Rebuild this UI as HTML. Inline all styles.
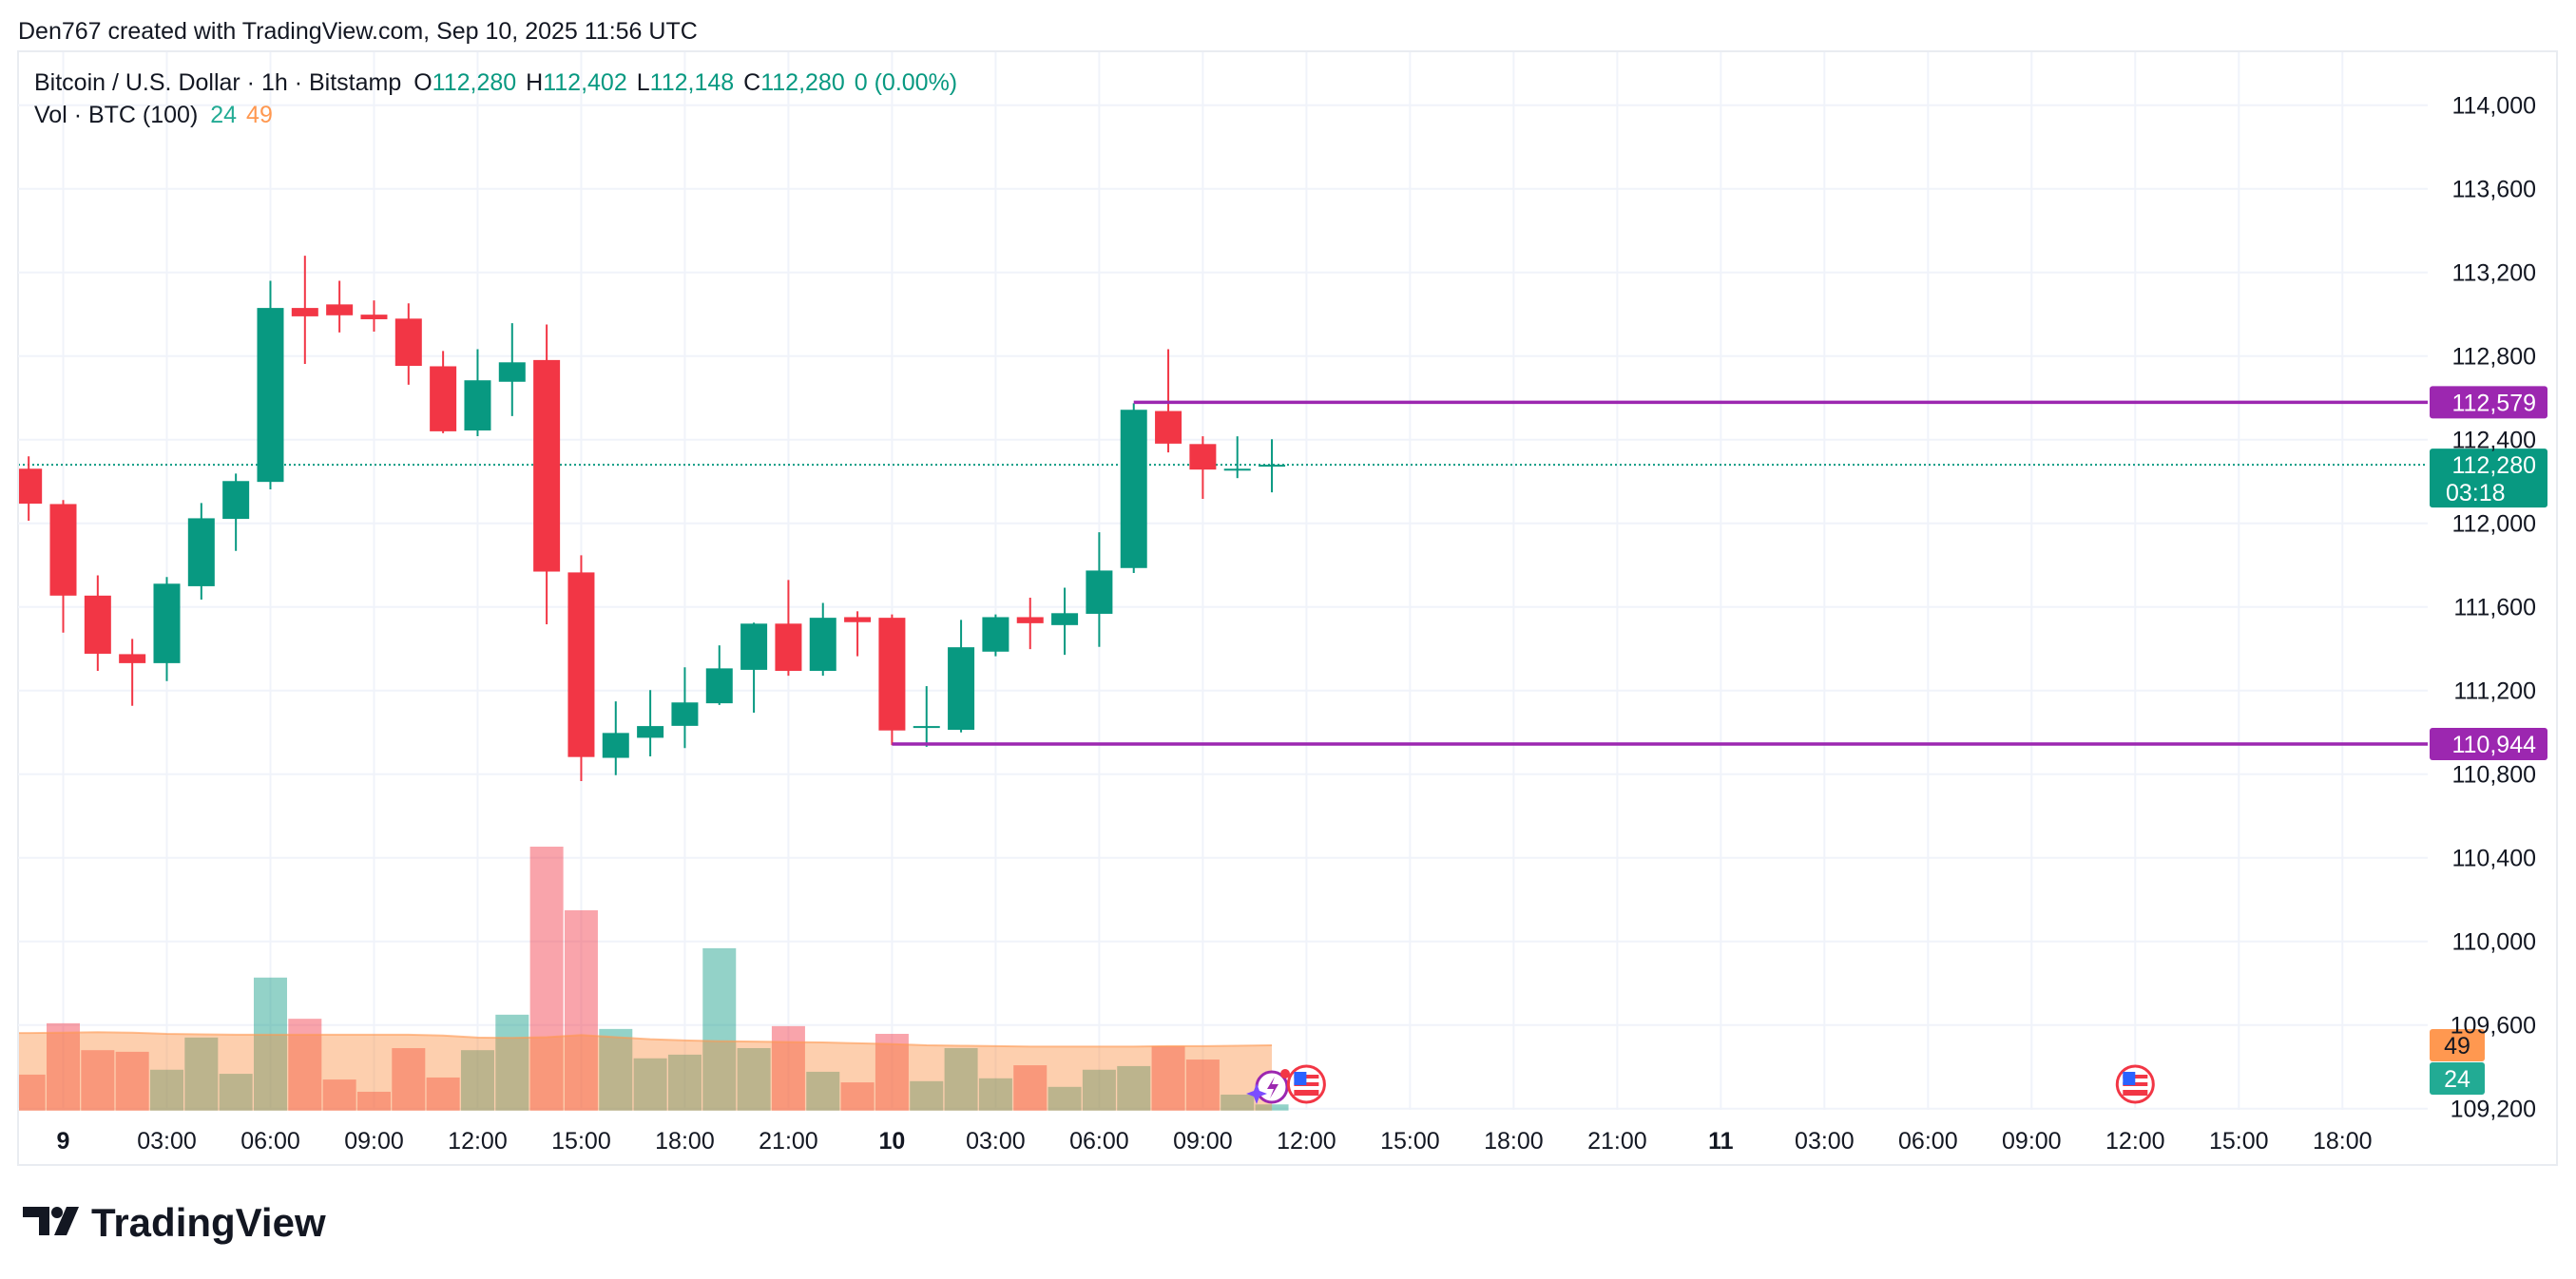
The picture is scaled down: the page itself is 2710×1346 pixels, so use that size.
<!DOCTYPE html>
<html><head><meta charset="utf-8"><style>
html,body{margin:0;padding:0;background:#fff;}
svg{display:block;font-family:"Liberation Sans",sans-serif;}
</style></head><body>
<svg id="chart" width="2710" height="1346" viewBox="0 0 2710 1346" xmlns="http://www.w3.org/2000/svg">
<defs><clipPath id="plotclip"><rect x="20" y="55" width="2534" height="1114"/></clipPath></defs>
<rect x="0" y="0" width="2710" height="1346" fill="#fff"/>
<text x="19" y="41" font-size="25" fill="#131722">Den767 created with TradingView.com, Sep 10, 2025 11:56 UTC</text>
<rect x="19" y="54" width="2671" height="1172" fill="none" stroke="#e9ecf1" stroke-width="2"/>
<g id="grid"></g>
<g id="vol" clip-path="url(#plotclip)"></g>
<g id="candles" clip-path="url(#plotclip)"></g>
<g id="overlay"></g>
<g id="axes"></g>
<text x="36" y="95" font-size="25" fill="#131722">Bitcoin / U.S. Dollar · 1h · Bitstamp <tspan dx="6">O</tspan><tspan fill="#089981">112,280</tspan><tspan dx="10">H</tspan><tspan fill="#089981">112,402</tspan><tspan dx="10">L</tspan><tspan fill="#089981">112,148</tspan><tspan dx="10">C</tspan><tspan fill="#089981">112,280</tspan><tspan dx="10" fill="#089981">0 (0.00%)</tspan></text>
<text x="36" y="129" font-size="25" fill="#131722">Vol · BTC (100) <tspan dx="6" fill="#22ab94">24</tspan><tspan dx="10" fill="#ff9850">49</tspan></text>
<g>
<path d="M24 1270 H52 V1300 H41 V1281 H24 Z" fill="#131722"/>
<circle cx="60" cy="1276" r="6" fill="#131722"/>
<path d="M70 1270 H83 L70 1300 H57 Z" fill="#131722"/>
<text x="96" y="1301" font-size="42" font-weight="bold" fill="#131722">TradingView</text>
</g>
</svg>
<script>
const categoriesHours=[-1,0,1,2,3,4,5,6,7,8,9,10,11,12,13,14,15,16,17,18,19,20,21,22,23,24,25,26,27,28,29,30,31,32,33,34,35];
const opens=[112261,112092,111654,111374,111331,111699,112021,112198,113030,113047,112998,112979,112751,112444,112677,112781,111765,110878,110974,111031,111139,111299,111520,111294,111551,111548,111026,111012,111386,111551,111513,111567,111786,112537,112379,112260,112280];
const highs=[112320,112111,111751,111447,111743,112097,112238,113160,113280,113160,113066,113052,112824,112833,112957,112951,111847,111148,111202,111311,111416,111525,111729,111619,111579,111564,111221,111538,111564,111644,111692,111957,112574,112833,112416,112416,112402];
const lows=[112012,111477,111294,111127,111245,111635,111868,112162,112762,112913,112917,112663,112431,112417,112513,111517,110767,110795,110885,110925,111131,111094,111271,111271,111364,110939,110931,111000,111364,111398,111371,111409,111762,112339,112117,112216,112148];
const closes=[112094,111654,111376,111331,111711,112024,112202,113030,112990,112995,112976,112753,112440,112684,112770,111769,110882,110997,111030,111143,111306,111520,111294,111548,111527,111009,111030,111407,111551,111522,111570,111774,112543,112381,112257,112261,112280];
const volumes=[88,214,148,144,100,179,90,326,225,76,46,153,81,148,235,647,491,200,128,137,398,153,207,95,69,188,72,153,79,111,58,100,109,158,125,39,15];
const volumeMA=[190,191,192,191,188,187,186,186,186,186,186,186,184,179,178,180,185,180,175,172,170,169,168,167,165,163,160,159,158,157,157,157,157,158,158,159,160];
const priceTicks=[114000,113600,113200,112800,112400,112000,111600,111200,110800,110400,110000,109600,109200];
const priceTickLabels=["114,000","113,600","113,200","112,800","112,400","112,000","111,600","111,200","110,800","110,400","110,000","109,600","109,200"];
const timeTickHours=[0,3,6,9,12,15,18,21,24,27,30,33,36,39,42,45,48,51,54,57,60,63,66];
const timeTickLabels=["9","03:00","06:00","09:00","12:00","15:00","18:00","21:00","10","03:00","06:00","09:00","12:00","15:00","18:00","21:00","11","03:00","06:00","09:00","12:00","15:00","18:00"];
const levelPrices=[112579,110944];
const levelLabels=["112,579","110,944"];
const levelStartHours=[31,24];
const lastPrice=112280;
const eventHours=[36,60];

const NS="http://www.w3.org/2000/svg";
const X0=66.5,PX_H=36.33,Y0=110.7,PX_P=0.22,VBASE=1168.7,VPX=0.4292;
const PLOT_L=19,PLOT_R=2554,PLOT_T=55,PLOT_B=1168;
function xAt(h){return X0+h*PX_H;}
function yAt(p){return Y0+(114000-p)*PX_P;}
function vH(v){return v*VPX;}
function mk(tag,attrs,parent){const e=document.createElementNS(NS,tag);for(const k in attrs)e.setAttribute(k,attrs[k]);parent.appendChild(e);return e;}
const grid=document.getElementById('grid'),vol=document.getElementById('vol'),cg=document.getElementById('candles'),ov=document.getElementById('overlay'),ax=document.getElementById('axes');

priceTicks.forEach((p,i)=>{
  const y=yAt(p);
  const l=mk('line',{x1:PLOT_L,x2:PLOT_R,y1:y,y2:y,stroke:'#f0f3fa','stroke-width':2},grid);
  
  
  const t=mk('text',{x:2668,y:y+9,'font-size':25,fill:'#131722','text-anchor':'end'},ax);
  t.textContent=priceTickLabels[i];
  
  
});
timeTickHours.forEach((h,i)=>{
  const x=xAt(h);
  const l=mk('line',{x1:x,x2:x,y1:PLOT_T,y2:PLOT_B,stroke:'#f0f3fa','stroke-width':2},grid);
  
  
  const bold=(timeTickLabels[i].indexOf(':')<0);
  const t=mk('text',{x:x,y:1209,'font-size':25,fill:'#131722','text-anchor':'middle','font-weight':bold?'bold':'normal'},ax);
  t.textContent=timeTickLabels[i];
  
  
});

categoriesHours.forEach((h,i)=>{
  const up=closes[i]>=opens[i];
  const hgt=vH(volumes[i]);
  const r=mk('rect',{x:xAt(h)-17.5,y:VBASE-hgt,width:35,height:hgt,fill:up?'rgba(8,153,129,0.44)':'rgba(242,54,69,0.45)'},vol);
  
  
});
let d='M'+PLOT_L+','+VBASE+' L'+PLOT_L+','+(VBASE-vH(volumeMA[0]));
categoriesHours.forEach((h,i)=>{d+=' L'+xAt(h)+','+(VBASE-vH(volumeMA[i]));});
d+=' L'+xAt(categoriesHours[categoriesHours.length-1])+','+VBASE+' Z';
const area=mk('path',{d:d,fill:'rgba(250,135,52,0.4)'},vol);


let dl='M'+PLOT_L+','+(VBASE-vH(volumeMA[0]));
categoriesHours.forEach((h,i)=>{dl+=' L'+xAt(h)+','+(VBASE-vH(volumeMA[i]));});
const mal=mk('path',{d:dl,fill:'none',stroke:'rgba(255,152,80,0.6)','stroke-width':2},vol);



const ly=yAt(lastPrice);
const dot=mk('line',{x1:PLOT_L,x2:PLOT_R,y1:ly,y2:ly,stroke:'#089981','stroke-width':2,'stroke-dasharray':'2 3'},cg);



categoriesHours.forEach((h,i)=>{
  const up=closes[i]>=opens[i];
  const col=up?'#089981':'#f23645';
  const x=xAt(h);
  const g=mk('g',{},cg);
  
  
  mk('line',{x1:x,x2:x,y1:yAt(highs[i]),y2:yAt(lows[i]),stroke:col,'stroke-width':2},g);
  const top=yAt(Math.max(opens[i],closes[i])),bot=yAt(Math.min(opens[i],closes[i]));
  mk('rect',{x:x-14,y:top,width:28,height:Math.max(2,bot-top),fill:col},g);
});

levelPrices.forEach((p,i)=>{
  const y=yAt(p);
  const l=mk('line',{x1:xAt(levelStartHours[i]),x2:PLOT_R,y1:y,y2:y,stroke:'#9c27b0','stroke-width':3.5},ov);
  
  
  const r=mk('rect',{x:2556,y:y-17,width:124,height:34,rx:3,fill:'#9c27b0'},ov);
  
  
  const t=mk('text',{x:2668,y:y+9,'font-size':25,fill:'#fff','text-anchor':'end'},ov);
  t.textContent=levelLabels[i];
  
  
});
const lb=mk('rect',{x:2556,y:ly-17,width:124,height:62,rx:3,fill:'#089981'},ov);


const lt=mk('text',{x:2668,y:ly+9,'font-size':25,fill:'#fff','text-anchor':'end'},ov);
lt.textContent='112,280';


const ct=mk('text',{x:2573,y:ly+38,'font-size':25,fill:'#fff'},ov);
ct.textContent='03:18';


const vb1=mk('rect',{x:2556,y:1083,width:58,height:34,rx:3,fill:'#ff9850'},ov);


const vt1=mk('text',{x:2585,y:1109,'font-size':25,fill:'#131722','text-anchor':'middle'},ov);
vt1.textContent='49';


const vb2=mk('rect',{x:2556,y:1118,width:58,height:34,rx:3,fill:'#22ab94'},ov);


const vt2=mk('text',{x:2585,y:1144,'font-size':25,fill:'#fff','text-anchor':'middle'},ov);
vt2.textContent='24';



const lg=mk('g',{},ov);


mk('circle',{cx:1338,cy:1144,r:16,fill:'#fff',stroke:'#9c27b0','stroke-width':3},lg);
mk('path',{d:'M1341 1133 L1333 1146 H1340 L1336 1156 L1345 1141 H1338 Z',fill:'#9c27b0'},lg);
mk('path',{d:'M1322 1140 L1325 1148 L1333 1151 L1325 1154 L1322 1162 L1319 1154 L1311 1151 L1319 1148 Z',fill:'#7b4dff'},lg);
mk('circle',{cx:1352,cy:1130,r:5,fill:'#f23645'},lg);
eventHours.forEach(h=>{
  const x=xAt(h);
  const g=mk('g',{},ov);
  
  
  mk('circle',{cx:x,cy:1141,r:19,fill:'#fff',stroke:'#f23645','stroke-width':3},g);
  mk('rect',{x:x-13,y:1131,width:26,height:4,fill:'#f23645'},g);
  mk('rect',{x:x-13,y:1139,width:26,height:4,fill:'#f23645'},g);
  mk('rect',{x:x-13,y:1147,width:26,height:6,fill:'#f23645'},g);
  mk('rect',{x:x-13,y:1128,width:13,height:14,fill:'#2962ff'},g);
});
</script>
</body></html>
